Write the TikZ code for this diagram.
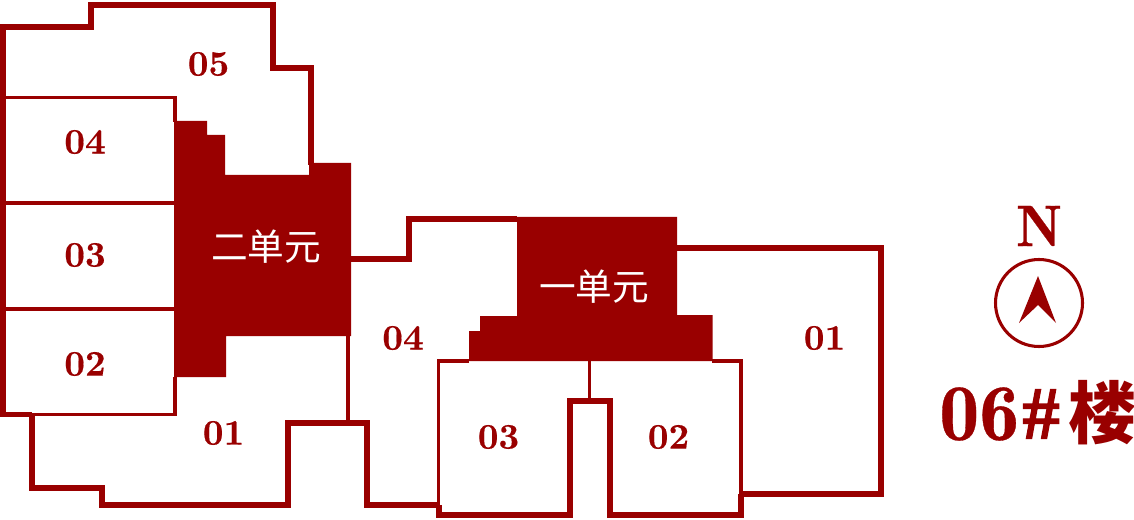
\documentclass[tikz,border=0pt]{standalone}
\usepackage{fontspec}
\newfontfamily\cjk{Noto Sans CJK SC}
\newfontfamily\numbf[Extension=.otf,FakeBold=0.3]{lmroman10-bold}
\newfontfamily\demi[Extension=.otf,FakeBold=0.4]{lmromandemi10-regular}
\newfontfamily\hashfont[FakeBold=1.5]{Liberation Serif Bold}
\definecolor{wallred}{HTML}{990000}
\tikzset{
  outer/.style={draw=wallred,line width=3.9pt,line join=miter},
  inner/.style={draw=wallred,line width=2.6pt},
  core/.style={fill=wallred},
  unitno/.style={text=wallred,font=\fontsize{27}{27}\selectfont\numbf,inner sep=0pt},
  corelabel/.style={text=white,font=\fontsize{27.5}{27.5}\selectfont\cjk,inner sep=0pt}
}
\begin{document}
\begin{tikzpicture}[x=0.75pt,y=-0.75pt]
\useasboundingbox (0,0) rectangle (1134,520);
% cores
\fill[core] (174,121)--(207,121)--(207,135)--(225,135)--(225,175)--(309,175)--(309,163)--(351,163)--(351,336)--(226,336)--(226,377)--(174,377)--cycle;
\fill[core] (517,217)--(677,217)--(677,315)--(712.5,315)--(712.5,361)--(469,361)--(469,331)--(480,331)--(480,316)--(517,316)--cycle;
% second unit
\draw[outer] (32,414.5)--(3,414.5)--(3,27)--(91,27)--(91,5)--(273,5)--(273,68)--(311,68)--(311,165);
\draw[inner] (3,97.5)--(175,97.5)--(175,122);
\draw[inner] (3,203)--(174,203);
\draw[inner] (3,309)--(174,309);
\draw[inner] (175,377)--(175,414.5)--(32,414.5);
\draw[outer] (32,414.5)--(32,488)--(102,488)--(102,505)--(288,505)--(288,423)--(367,423)--(367,505)--(438,505);
\draw[draw=wallred,line width=3.2pt] (348,336)--(348,423);
% first unit
\draw[outer] (351,259)--(409,259)--(409,219)--(517,219);
\draw[outer] (677,248)--(881,248)--(881,494)--(741,494);
\draw[inner] (469,361)--(438.5,361)--(438.5,505);
\draw[outer] (439,505)--(439,515)--(570,515)--(570,401)--(610,401)--(610,515)--(741,515)--(741,494);
\draw[inner] (741,494)--(741,361)--(712,361);
\draw[inner] (589.5,361)--(589.5,401);
% labels
\node[unitno] (no05) at (208.5,64) {05};
\node[unitno] (no04b) at (85,142) {04};
\node[unitno] (no03b) at (85,255) {03};
\node[unitno] (no02b) at (85,364) {02};
\node[unitno] (no01b) at (223.5,433) {01};
\node[unitno] (no04a) at (403,338) {04};
\node[unitno] (no03a) at (498.5,437) {03};
\node[unitno] (no02a) at (668.5,437) {02};
\node[unitno] (no01a) at (824.5,338) {01};
\node[corelabel] (unit2) at (266,247) {二单元};
\node[corelabel] (unit1) at (594,287) {一单元};
% north
\node[text=wallred,inner sep=0pt,font=\fontsize{44}{44}\selectfont\demi] (north) at (1039,226) {N};
\draw[draw=wallred,line width=2.3pt] (1039,303) circle (43.5);
\fill[wallred] (1038,276)--(1056,323)--(1038,305)--(1019,323)--cycle;
\node[anchor=west,text=wallred,inner sep=0pt,font=\fontsize{60}{60}\selectfont\demi] (bno) at (939,414) {06};
\node[anchor=east,text=wallred,inner sep=0pt,font=\fontsize{56}{56}\selectfont\hashfont] (bhash) at (1060,414) {\#};
\node[anchor=west,text=wallred,inner sep=0pt,font=\fontsize{51}{51}\selectfont\cjk\bfseries] (bname) at (1068,413) {楼};
\end{tikzpicture}
\end{document}
